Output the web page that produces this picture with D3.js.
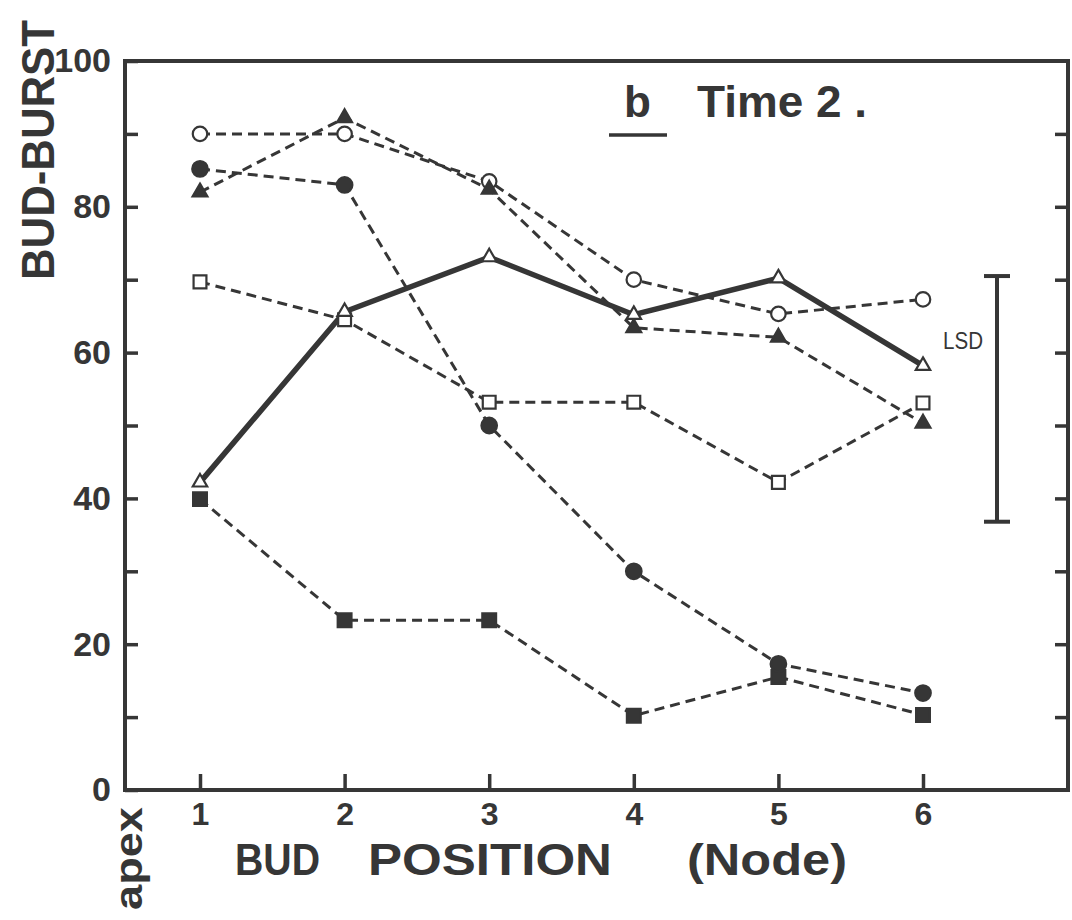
<!DOCTYPE html>
<html>
<head>
<meta charset="utf-8">
<script src="https://cdn.jsdelivr.net/npm/d3@7"></script>
<style>
  body { margin: 0; background: #fff; }
  svg text { fill: #363636; }
</style>
</head>
<body>
<div id="chart"></div>
<script>

// bud position (node from apex)
var nodes = [1, 2, 3, 4, 5, 6];

// % bud-burst
var openCircle     = [90.0, 90.0, 83.5, 70.0, 65.3, 67.3];
var filledCircle   = [85.2, 83.0, 50.0, 30.0, 17.3, 13.3];
var filledTriangle = [82.0, 92.2, 82.4, 63.4, 62.1, 50.3];
var openTriangle   = [42.2, 65.6, 73.1, 65.2, 70.2, 58.2];
var openSquare     = [69.7, 64.5, 53.2, 53.2, 42.2, 53.1];
var filledSquare   = [39.9, 23.3, 23.3, 10.2, 15.5, 10.3];

var lsdRange = [36.8, 70.5];

var yTicks = [0, 10, 20, 30, 40, 50, 60, 70, 80, 90, 100];
var yLabels = [0, 20, 40, 60, 80, 100];

var width = 1072, height = 920;
var plotLeft = 125, plotRight = 1068, plotTop = 61, plotBottom = 790;
var ink = '#363636';
var numFont = "'Liberation Sans', Arial, sans-serif";

var x = d3.scaleLinear().domain([1, 6]).range([200, 923]);
var y = d3.scaleLinear().domain([0, 100]).range([plotBottom, plotTop]);

var svg = d3.select('#chart').append('svg')
  .attr('width', width)
  .attr('height', height);

// series table built from the arrays above
var series = [
  {values: openSquare, symbol: d3.symbolSquare, size: 165, fill: '#fff', solid: false},
  {values: filledSquare, symbol: d3.symbolSquare, size: 190, fill: ink, solid: false},
  {values: filledCircle, symbol: d3.symbolCircle, size: 190, fill: ink, solid: false},
  {values: openCircle, symbol: d3.symbolCircle, size: 165, fill: '#fff', solid: false},
  {values: filledTriangle, symbol: d3.symbolTriangle, size: 95, fill: ink, solid: false},
  {values: openTriangle, symbol: d3.symbolTriangle, size: 90, fill: '#fff', solid: true}
];

var line = d3.line()
  .x(function(d) { return x(d[0]); })
  .y(function(d) { return y(d[1]); });

series.forEach(function(s) {
  var pts = nodes.map(function(n, i) { return [n, s.values[i]]; });
  svg.append('path')
    .datum(pts)
    .attr('d', line)
    .attr('fill', 'none')
    .attr('stroke', ink)
    .attr('stroke-width', s.solid ? 5.5 : 3)
    .attr('stroke-dasharray', s.solid ? null : '10,6');
});

series.forEach(function(s) {
  var pts = nodes.map(function(n, i) { return [n, s.values[i]]; });
  svg.selectAll(null)
    .data(pts)
    .enter()
    .append('path')
    .attr('transform', function(d) { return 'translate(' + x(d[0]) + ',' + y(d[1]) + ')'; })
    .attr('d', d3.symbol().type(s.symbol).size(s.size))
    .attr('fill', s.fill)
    .attr('stroke', ink)
    .attr('stroke-width', 2.2);
});

// axes - ticks point inward
var yAxis = svg.append('g')
  .attr('transform', 'translate(' + plotLeft + ',0)')
  .call(d3.axisLeft(y).tickValues(yTicks).tickSize(-13).tickPadding(14)
    .tickFormat(function(d) { return yLabels.indexOf(d) >= 0 ? d : ''; }));

var yAxisR = svg.append('g')
  .attr('transform', 'translate(' + plotRight + ',0)')
  .call(d3.axisRight(y).tickValues(yTicks.slice(1, -1)).tickSize(-13).tickFormat(''));

var xAxis = svg.append('g')
  .attr('transform', 'translate(0,' + plotBottom + ')')
  .call(d3.axisBottom(x).tickValues(nodes).tickSize(-16).tickPadding(12).tickFormat(d3.format('d')));

[yAxis, yAxisR, xAxis].forEach(function(g) {
  g.select('.domain').remove();
  g.selectAll('.tick line').attr('stroke', ink).attr('stroke-width', 3.5);
  g.selectAll('.tick text')
    .attr('font-family', numFont)
    .attr('font-weight', 'bold')
    .attr('fill', ink);
});
yAxis.selectAll('.tick text').attr('font-size', 34);
xAxis.selectAll('.tick text').attr('font-size', 32);

// frame
svg.append('rect')
  .attr('x', plotLeft)
  .attr('y', plotTop)
  .attr('width', plotRight - plotLeft)
  .attr('height', plotBottom - plotTop)
  .attr('fill', 'none')
  .attr('stroke', ink)
  .attr('stroke-width', 4);

// LSD bar
var lsdX = 997;
svg.append('line')
  .attr('x1', lsdX).attr('x2', lsdX)
  .attr('y1', y(lsdRange[0])).attr('y2', y(lsdRange[1]))
  .attr('stroke', ink).attr('stroke-width', 4);
lsdRange.forEach(function(v) {
  svg.append('line')
    .attr('x1', lsdX - 13).attr('x2', lsdX + 13)
    .attr('y1', y(v)).attr('y2', y(v))
    .attr('stroke', ink).attr('stroke-width', 4);
});
svg.append('text')
  .attr('x', 943).attr('y', 349)
  .attr('font-family', numFont)
  .attr('font-size', 23)
  .attr('textLength', 40)
  .attr('lengthAdjust', 'spacingAndGlyphs')
  .text('LSD');

// title
svg.append('text')
  .attr('x', 624).attr('y', 117)
  .attr('font-family', numFont)
  .attr('font-weight', 'bold')
  .attr('font-size', 44)
  .text('b');
svg.append('line')
  .attr('x1', 609).attr('x2', 667)
  .attr('y1', 135).attr('y2', 135)
  .attr('stroke', ink).attr('stroke-width', 3.5);
svg.append('text')
  .attr('x', 697).attr('y', 117)
  .attr('font-family', numFont)
  .attr('font-weight', 'bold')
  .attr('font-size', 44)
  .attr('textLength', 170)
  .attr('lengthAdjust', 'spacingAndGlyphs')
  .text('Time 2 .');

// y axis title
svg.append('text')
  .attr('transform', 'translate(54,150) rotate(-90)')
  .attr('text-anchor', 'middle')
  .attr('font-family', numFont)
  .attr('font-weight', 'bold')
  .attr('font-size', 47)
  .attr('textLength', 260)
  .attr('lengthAdjust', 'spacingAndGlyphs')
  .text('BUD-BURST');

// x axis title, spaced out like the original
var xTitle = [
  {t: 'BUD', x: 235, w: 85},
  {t: 'POSITION', x: 368, w: 244},
  {t: '(Node)', x: 687, w: 160}
];
xTitle.forEach(function(p) {
  svg.append('text')
    .attr('x', p.x).attr('y', 875)
    .attr('font-family', numFont)
    .attr('font-weight', 'bold')
    .attr('font-size', 44)
    .attr('textLength', p.w)
    .attr('lengthAdjust', 'spacingAndGlyphs')
    .text(p.t);
});

svg.append('text')
  .attr('transform', 'translate(142,910) rotate(-90)')
  .attr('font-family', numFont)
  .attr('font-weight', 'bold')
  .attr('font-size', 38)
  .attr('textLength', 103)
  .attr('lengthAdjust', 'spacingAndGlyphs')
  .text('apex');

</script>
</body>
</html>
